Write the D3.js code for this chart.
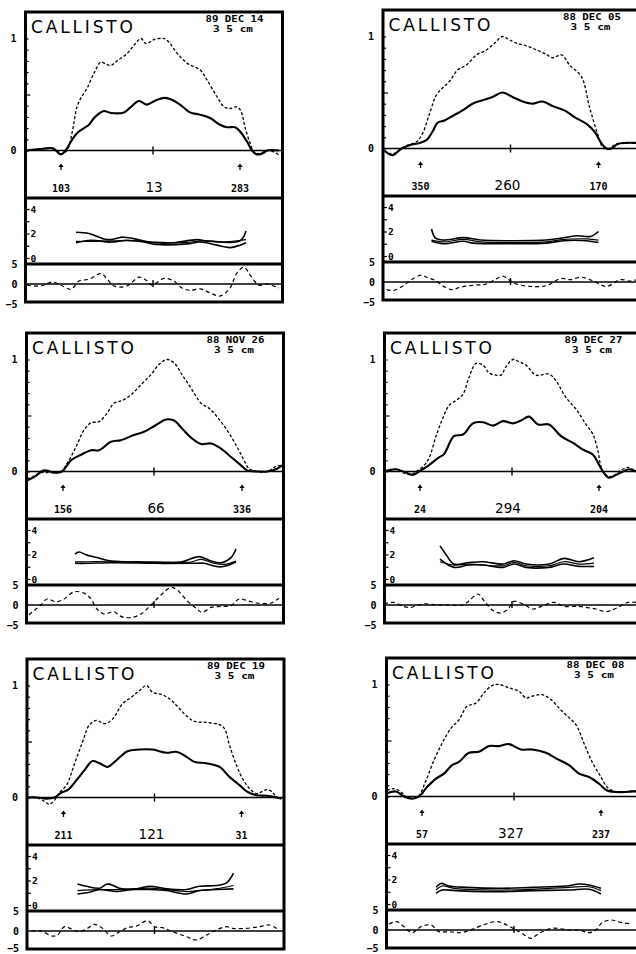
<!DOCTYPE html>
<html>
<head>
<meta charset="utf-8">
<script src="https://cdn.jsdelivr.net/npm/d3@7"></script>
<style>
  body { margin: 0; background: #fff; }
  svg { display: block; }
</style>
</head>
<body>
<svg id="chart" width="636" height="954"></svg>
<script>
// labels of the six scans
const target = "CALLISTO";
const band = "3 5 cm";
const dates = ["89 DEC 14", "88 DEC 05", "88 NOV 26", "89 DEC 27", "89 DEC 19", "88 DEC 08"];
const centerLon = ["13", "260", "66", "294", "121", "327"];
const limbLon = [["103", "283"], ["350", "170"], ["156", "336"], ["24", "204"], ["211", "31"], ["57", "237"]];
// limb positions along the scan (same units as the x values below)
const limbPos = [[-92, 87], [-90, 88], [-91, 88], [-92, 87], [-91, 87], [-92, 87]];
const centerLabelPos = [1, -3, 2, -4, -3, -3];

// ---- panel 1 : 89 DEC 14 ----
const p1Upper = [[-126,0.0],[-115,0.01],[-105,0.02],[-96,0.0],[-92,-0.03],[-86,0.0],[-81,0.155],[-76,0.39],[-72,0.47],[-66,0.555],[-59,0.69],[-52,0.79],[-47,0.77],[-42,0.76],[-36,0.8],[-26,0.865],[-19,0.94],[-12,1.0],[-7,0.955],[1,0.99],[11,1.0],[17,0.955],[24,0.87],[34,0.78],[47,0.72],[54,0.63],[64,0.48],[71,0.39],[77,0.375],[84,0.39],[88,0.35],[92,0.21],[97,0.066],[101,-0.01],[106,-0.03],[111,-0.01],[117,0.0],[126,-0.04]];
const p1Lower = [[-126,0.0],[-110,0.015],[-100,0.02],[-92,-0.035],[-86,0.02],[-81,0.095],[-76,0.155],[-69,0.2],[-64,0.23],[-59,0.29],[-54,0.33],[-49,0.353],[-42,0.335],[-29,0.34],[-22,0.39],[-14,0.442],[-6,0.41],[2,0.445],[11,0.47],[17,0.46],[27,0.41],[37,0.34],[47,0.32],[57,0.29],[67,0.23],[74,0.208],[82,0.208],[87,0.17],[94,0.08],[99,0.0],[104,-0.035],[111,-0.02],[114,0.0],[126,0.0]];
const p1Ratio = [
  [[-77,2.1],[-64,2.0],[-46,1.5],[-29,1.7],[-12,1.45],[1,1.25],[21,1.25],[44,1.5],[54,1.4],[87,1.4],[93,2.2]],
  [[-77,1.35],[-60,1.35],[-40,1.4],[-20,1.4],[0,1.3],[30,1.25],[50,1.4],[70,1.3],[93,1.5]],
  [[-77,1.25],[-62,1.45],[-42,1.3],[-26,1.45],[-9,1.3],[4,1.1],[34,1.15],[47,1.3],[64,1.05],[77,0.85],[87,1.05],[93,1.25]]
];
const p1Resid = [[-126,-0.3],[-112,-0.5],[-101,0.5],[-92,-0.3],[-82,-1.3],[-74,0.75],[-64,1.2],[-52,2.6],[-46,1.3],[-39,-0.5],[-26,-0.5],[-14,1.7],[-6,0.8],[-1,-0.3],[11,1.4],[21,0.7],[29,-1],[37,-1.6],[47,-1.2],[57,-2.2],[67,-3.0],[77,-1],[84,2.8],[91,4.2],[97,2.3],[106,-0.3],[114,0],[126,-1]];

// ---- panel 2 : 88 DEC 05 ----
const p2Upper = [[-126,-0.02],[-118,-0.05],[-109,0.0],[-103,0.03],[-94,0.06],[-88,0.133],[-81,0.31],[-74,0.48],[-68,0.54],[-61,0.6],[-53,0.7],[-44,0.746],[-34,0.836],[-24,0.88],[-16,0.94],[-8,1.0],[-1,0.97],[6,0.94],[16,0.917],[26,0.88],[36,0.84],[42,0.81],[51,0.836],[59,0.746],[71,0.64],[79,0.37],[87,0.133],[92,0.015],[97,-0.005],[106,0.04],[116,0.05],[126,0.045]];
const p2Lower = [[-126,-0.02],[-118,-0.06],[-109,0.0],[-101,0.03],[-91,0.05],[-84,0.075],[-78,0.15],[-73,0.23],[-66,0.25],[-58,0.29],[-48,0.34],[-38,0.4],[-28,0.43],[-18,0.46],[-8,0.5],[2,0.46],[12,0.42],[22,0.4],[32,0.42],[42,0.38],[54,0.34],[64,0.28],[76,0.22],[84,0.15],[91,0.045],[96,0.0],[101,0.0],[107,0.04],[116,0.05],[126,0.05]];
const p2Ratio = [
  [[-79,2.2],[-75,1.45],[-67,1.3],[-47,1.5],[-30,1.3],[0,1.25],[36,1.3],[50,1.45],[66,1.65],[80,1.6],[88,2.0]],
  [[-79,1.3],[-67,1.15],[-47,1.35],[-30,1.15],[0,1.1],[36,1.15],[53,1.35],[76,1.4],[88,1.3]],
  [[-79,1.2],[-67,1.0],[-47,1.2],[-37,1.05],[0,1.0],[36,1.05],[53,1.25],[76,1.25],[88,1.1]]
];
const p2Resid = [[-124,-1.9],[-117,-2.1],[-107,-0.9],[-99,0.6],[-89,1.7],[-84,1.2],[-75,0.35],[-67,-1.1],[-59,-1.9],[-50,-1.3],[-37,-0.8],[-24,-0.5],[-14,0.85],[-7,1.4],[-2,0.6],[6,-0.5],[20,-1.1],[36,-0.9],[50,0.85],[60,0.6],[71,1.2],[83,0.2],[96,-1.1],[110,0.6],[120,0.2],[126,0.6]];

// ---- panel 3 : 88 NOV 26 ----
const p3Upper = [[-127,-0.067],[-122,-0.05],[-113,-0.01],[-103,-0.01],[-93,0.0],[-87,0.07],[-78,0.22],[-70,0.37],[-63,0.435],[-55,0.445],[-47,0.52],[-40,0.61],[-32,0.633],[-23,0.685],[-13,0.775],[-3,0.865],[5,0.955],[13,1.0],[20,0.97],[28,0.865],[37,0.745],[47,0.61],[55,0.565],[63,0.49],[73,0.37],[83,0.22],[90,0.1],[95,0.025],[103,0.0],[113,0.0],[122,0.045],[128,0.055]];
const p3Lower = [[-127,-0.08],[-120,-0.05],[-110,0.01],[-100,-0.01],[-92,0.0],[-83,0.1],[-73,0.15],[-63,0.19],[-55,0.19],[-43,0.265],[-33,0.28],[-20,0.325],[-10,0.355],[2,0.415],[12,0.465],[20,0.455],[28,0.385],[38,0.295],[47,0.245],[57,0.25],[67,0.205],[77,0.13],[87,0.055],[93,0.01],[103,0.0],[113,0.0],[123,0.025],[128,0.055]];
const p3Ratio = [
  [[-79,2.03],[-75,2.2],[-67,1.95],[-57,1.75],[-43,1.47],[-20,1.39],[3,1.33],[27,1.39],[45,1.83],[57,1.47],[67,1.33],[77,1.75],[82,2.45]],
  [[-79,1.39],[-43,1.45],[3,1.39],[37,1.39],[47,1.6],[60,1.28],[70,1.19],[82,1.47]],
  [[-79,1.28],[-67,1.28],[-43,1.33],[3,1.28],[37,1.28],[50,1.28],[60,1.06],[68,1.0],[82,1.39]]
];
const p3Resid = [[-125,-2.5],[-120,-1.4],[-113,0],[-107,1.5],[-98,0.8],[-90,1.5],[-80,3.3],[-70,2.97],[-63,1.5],[-57,-1.0],[-50,-2.25],[-40,-1.67],[-35,-2.6],[-30,-3.1],[-22,-3.1],[-13,-2.25],[-3,0],[7,2.5],[17,4.4],[23,3.8],[33,1.1],[43,-1.0],[48,-1.85],[57,-0.6],[67,-0.35],[77,-0.15],[85,1.5],[93,1.1],[103,0.5],[117,0.5],[125,1.7]];

// ---- panel 4 : 89 DEC 27 ----
const p4Upper = [[-128,0.0],[-121,0.01],[-114,0.02],[-108,-0.015],[-101,-0.03],[-96,0.0],[-89,0.045],[-83,0.12],[-76,0.316],[-69,0.48],[-63,0.59],[-56,0.635],[-49,0.69],[-43,0.84],[-36,0.965],[-29,0.95],[-23,0.88],[-16,0.86],[-11,0.86],[-6,0.935],[1,1.0],[7,0.98],[14,0.95],[24,0.86],[37,0.87],[44,0.81],[54,0.66],[64,0.557],[74,0.42],[81,0.33],[86,0.18],[89,0.045],[94,-0.03],[101,-0.045],[107,0.0],[116,0.036],[124,0.0]];
const p4Lower = [[-128,0.0],[-116,0.02],[-106,-0.01],[-99,-0.03],[-93,0.0],[-84,0.05],[-74,0.12],[-68,0.155],[-58,0.316],[-49,0.33],[-39,0.43],[-29,0.44],[-19,0.41],[-9,0.45],[1,0.43],[9,0.455],[17,0.49],[26,0.42],[37,0.42],[49,0.316],[61,0.255],[71,0.195],[81,0.15],[87,0.06],[92,-0.015],[97,-0.055],[104,-0.03],[111,0.0],[117,0.02],[124,0.0]];
const p4Ratio = [
  [[-72,2.7],[-66,2.0],[-58,1.22],[-43,1.35],[-29,1.41],[-9,1.22],[2,1.49],[14,1.22],[37,1.22],[52,1.68],[67,1.41],[82,1.73]],
  [[-72,1.41],[-58,1.14],[-43,1.22],[-9,1.08],[2,1.35],[14,1.08],[37,1.08],[52,1.41],[67,1.22],[82,1.3]],
  [[-72,1.63],[-58,0.95],[-43,1.14],[-29,1.14],[-9,0.95],[2,1.22],[14,0.95],[37,0.95],[51,1.22],[67,1.03],[82,1.03]]
];
const p4Resid = [[-128,0.25],[-119,0.67],[-109,-0.33],[-101,-0.6],[-89,0.25],[-76,0.08],[-63,0],[-49,0],[-43,1.08],[-34,2.75],[-28,1.08],[-19,-1.4],[-11,-2.0],[-4,-1.0],[2,0.9],[11,0.25],[21,-1.0],[31,-0.17],[42,0.67],[52,-0.33],[67,-0.33],[74,-0.6],[84,-1.0],[94,-1.67],[104,-0.83],[116,0.67],[124,0.67]];

// ---- panel 5 : 89 DEC 19 ----
const p5Upper = [[-127,0.0],[-118,0.0],[-110,-0.035],[-105,-0.06],[-100,-0.025],[-95,0.045],[-88,0.11],[-80,0.3],[-72,0.495],[-65,0.65],[-58,0.688],[-50,0.66],[-42,0.7],[-32,0.837],[-23,0.896],[-15,0.955],[-8,1.0],[-2,0.94],[8,0.917],[17,0.867],[25,0.793],[33,0.72],[40,0.68],[52,0.67],[65,0.65],[70,0.615],[75,0.466],[82,0.287],[88,0.17],[95,0.08],[102,0.035],[107,0.05],[112,0.07],[117,0.055],[122,0.006],[127,-0.01]];
const p5Lower = [[-127,0.0],[-118,0.0],[-108,-0.01],[-100,0.0],[-93,0.045],[-87,0.065],[-78,0.155],[-70,0.245],[-62,0.325],[-55,0.305],[-47,0.273],[-38,0.333],[-27,0.413],[-15,0.428],[-2,0.428],[12,0.4],[22,0.408],[32,0.363],[40,0.318],[52,0.305],[65,0.273],[75,0.184],[85,0.11],[93,0.05],[102,0.02],[112,0.015],[122,0.0],[127,-0.01]];
const p5Ratio = [
  [[-77,1.72],[-68,1.53],[-55,1.37],[-47,1.72],[-35,1.37],[-22,1.26],[-5,1.53],[12,1.32],[32,1.26],[45,1.53],[62,1.59],[72,1.8],[79,2.6]],
  [[-77,1.18],[-55,1.26],[-38,1.26],[-5,1.37],[12,1.26],[32,1.1],[45,1.18],[62,1.32],[79,1.59]],
  [[-77,0.9],[-65,1.04],[-55,1.26],[-38,1.1],[-22,1.26],[-5,1.26],[12,1.18],[32,0.9],[45,1.18],[62,1.26],[79,1.32]]
];
const p5Resid = [[-123,0],[-113,0],[-103,-1.25],[-97,-1.0],[-90,1.08],[-83,0.5],[-75,-0.17],[-67,0.67],[-60,1.67],[-52,0.67],[-43,-1.25],[-35,-0.17],[-27,0.83],[-18,1.25],[-7,2.58],[0,1.08],[8,0.83],[18,-0.17],[32,-1.42],[42,-2.25],[52,-1.0],[62,0.25],[72,1.08],[78,0.67],[92,0.67],[105,1.08],[115,1.5],[123,0.5]];

// ---- panel 6 : 88 DEC 08 ----
const p6Upper = [[-127,0.054],[-120,0.07],[-113,0.04],[-107,-0.006],[-100,-0.015],[-95,0.01],[-88,0.144],[-80,0.324],[-72,0.474],[-63,0.61],[-55,0.685],[-47,0.805],[-38,0.835],[-30,0.925],[-22,0.99],[-15,1.0],[-5,0.97],[5,0.94],[12,0.88],[18,0.895],[28,0.91],[37,0.865],[45,0.79],[53,0.72],[62,0.64],[70,0.474],[78,0.31],[87,0.174],[93,0.084],[100,0.048],[108,0.04],[118,0.048],[123,0.04]];
const p6Lower = [[-127,0.03],[-118,0.045],[-110,0.0],[-102,-0.02],[-95,0.0],[-87,0.084],[-78,0.16],[-70,0.204],[-62,0.28],[-55,0.31],[-45,0.39],[-35,0.4],[-25,0.45],[-15,0.45],[-5,0.468],[7,0.42],[18,0.42],[32,0.39],[42,0.34],[55,0.28],[65,0.204],[75,0.174],[85,0.114],[93,0.054],[102,0.04],[112,0.04],[122,0.048]];
const p6Ratio = [
  [[-78,1.36],[-73,1.68],[-65,1.47],[-48,1.36],[-15,1.28],[18,1.36],[52,1.47],[65,1.63],[75,1.55],[87,1.28]],
  [[-78,1.14],[-72,1.47],[-58,1.25],[-15,1.14],[18,1.2],[55,1.36],[75,1.41],[87,1.09]],
  [[-78,0.87],[-72,1.14],[-58,1.09],[-15,1.0],[18,1.09],[55,1.14],[75,1.2],[87,0.82]]
];
const p6Resid = [[-125,1.5],[-117,2.1],[-110,0.83],[-102,-0.67],[-93,0.83],[-83,1.25],[-75,-0.42],[-65,-0.42],[-53,-0.67],[-42,0.17],[-28,1.5],[-17,2.1],[-7,1.25],[2,0],[8,-0.83],[17,-2.1],[25,-0.83],[38,0.42],[55,0],[65,0],[75,-0.67],[82,0],[88,1.83],[97,2.5],[108,1.83],[118,1.5]];

const uppers = [p1Upper, p2Upper, p3Upper, p4Upper, p5Upper, p6Upper];
const lowers = [p1Lower, p2Lower, p3Lower, p4Lower, p5Lower, p6Lower];
const ratios = [p1Ratio, p2Ratio, p3Ratio, p4Ratio, p5Ratio, p6Ratio];
const resids = [p1Resid, p2Resid, p3Resid, p4Resid, p5Resid, p6Resid];

// frame corners of each panel on the page
const layout = [
  { x: 25.5, y: 12 }, { x: 383, y: 10 },
  { x: 26.5, y: 333 }, { x: 384.5, y: 333 },
  { x: 27, y: 659 }, { x: 386.5, y: 658 }
];
const W = 257;
const monoBold = "'DejaVu Sans Mono', monospace";
const plotFont = "'DejaVu Sans', sans-serif";
const pageH = 954;

const svg = d3.select("#chart");

dates.forEach((date, i) => {
  const L = layout[i].x, T = layout[i].y;
  const g = svg.append("g");

  const x = d3.scaleLinear().domain([-127.5, 129.5]).range([L, L + W]);
  const yMain = d3.scaleLinear().domain([0, 1]).range([T + 138.5, T + 26.5]);
  const yMid = d3.scaleLinear().domain([0, 4]).range([T + 246, T + 197]);
  const yRes = d3.scaleLinear().domain([-5, 5]).range([T + 292, T + 252]);

  // clip areas
  const clips = [["m", T, 186], ["r", T + 186, 66], ["b", T + 252, 38]];
  clips.forEach(([k, y0, h]) => {
    svg.append("clipPath").attr("id", `c${i}${k}`)
      .append("rect").attr("x", L).attr("y", y0).attr("width", W).attr("height", h);
  });

  const lineMain = d3.line().x(d => x(d[0])).y(d => yMain(d[1])).curve(d3.curveCatmullRom.alpha(0.5));
  const lineMid = d3.line().x(d => x(d[0])).y(d => yMid(d[1])).curve(d3.curveCatmullRom.alpha(0.5));
  const lineRes = d3.line().x(d => x(d[0])).y(d => yRes(d[1])).curve(d3.curveCatmullRom.alpha(0.5));

  // main panel zero line and centre tick
  g.append("line").attr("x1", L).attr("x2", L + W)
    .attr("y1", yMain(0)).attr("y2", yMain(0))
    .attr("stroke", "#000").attr("stroke-width", 1.6);
  g.append("line").attr("x1", x(0)).attr("x2", x(0))
    .attr("y1", yMain(0) - 4).attr("y2", yMain(0) + 4)
    .attr("stroke", "#000").attr("stroke-width", 1.4);

  const mainG = g.append("g").attr("clip-path", `url(#c${i}m)`);
  mainG.append("path").datum(uppers[i]).attr("d", lineMain)
    .attr("fill", "none").attr("stroke", "#000").attr("stroke-width", 1.3)
    .attr("stroke-dasharray", "3,2");
  mainG.append("path").datum(lowers[i]).attr("d", lineMain)
    .attr("fill", "none").attr("stroke", "#000").attr("stroke-width", 2.1);

  // left axis of main panel
  const ax = g.append("g").attr("transform", `translate(${L},0)`)
    .call(d3.axisRight(yMain).tickValues(d3.range(0, 1.05, 0.1)).tickSize(3).tickFormat(""));
  ax.select(".domain").remove();
  ax.selectAll(".tick line").attr("stroke-width", 1.2)
    .attr("x2", d => Math.abs(d - 0.5) < 0.01 ? 5 : 3);
  const axL = g.append("g").attr("transform", `translate(${L},0)`)
    .call(d3.axisLeft(yMain).tickValues([0, 1]).tickSize(0).tickPadding(9).tickFormat(d3.format("d")));
  axL.select(".domain").remove();
  axL.selectAll("text").attr("font-family", monoBold).attr("font-weight", "bold").attr("font-size", 10);

  // title, date, band
  g.append("text").attr("x", L + 5.5).attr("y", T + 21)
    .attr("font-family", plotFont).attr("font-size", 17)
    .attr("textLength", 102).attr("lengthAdjust", "spacing")
    .text(target);
  g.append("text").attr("x", L + 180).attr("y", T + 10)
    .attr("font-family", monoBold).attr("font-weight", "bold").attr("font-size", 8.5)
    .attr("textLength", 58).attr("lengthAdjust", "spacingAndGlyphs")
    .text(date);
  g.append("text").attr("x", L + 187.5).attr("y", T + 19.5)
    .attr("font-family", monoBold).attr("font-weight", "bold").attr("font-size", 8.5)
    .attr("textLength", 40).attr("lengthAdjust", "spacingAndGlyphs")
    .text(band);

  // limb arrows and longitude labels
  limbPos[i].forEach((lp, k) => {
    const ax0 = x(lp);
    g.append("path")
      .attr("d", `M${ax0},${T + 151.5}L${ax0 - 2.6},${T + 155}L${ax0 + 2.6},${T + 155}Z`)
      .attr("fill", "#000");
    g.append("line").attr("x1", ax0).attr("x2", ax0)
      .attr("y1", T + 154).attr("y2", T + 158)
      .attr("stroke", "#000").attr("stroke-width", 1.3);
    g.append("text").attr("x", ax0).attr("y", T + 179.5)
      .attr("text-anchor", "middle")
      .attr("font-family", monoBold).attr("font-weight", "bold").attr("font-size", 10)
      .text(limbLon[i][k]);
  });
  g.append("text").attr("x", x(centerLabelPos[i])).attr("y", T + 180)
    .attr("text-anchor", "middle")
    .attr("font-family", plotFont).attr("font-size", 13.5)
    .text(centerLon[i]);

  // ratio panel
  const midG = g.append("g").attr("clip-path", `url(#c${i}r)`);
  ratios[i].forEach((s, k) => {
    midG.append("path").datum(s).attr("d", lineMid)
      .attr("fill", "none").attr("stroke", "#000")
      .attr("stroke-width", k === 1 ? 1.2 : 1.6);
  });
  const axM = g.append("g").attr("transform", `translate(${L},0)`)
    .call(d3.axisRight(yMid).tickValues([0, 1, 2, 3, 4]).tickSize(4).tickPadding(1)
      .tickFormat(d => d % 2 === 0 ? d : ""));
  axM.select(".domain").remove();
  axM.selectAll(".tick line").attr("stroke-width", 1.2);
  axM.selectAll("text").attr("font-family", monoBold).attr("font-weight", "bold").attr("font-size", 9.5);

  // residual panel
  g.append("line").attr("x1", L).attr("x2", L + W)
    .attr("y1", yRes(0)).attr("y2", yRes(0))
    .attr("stroke", "#000").attr("stroke-width", 1.6);
  g.append("line").attr("x1", x(0)).attr("x2", x(0))
    .attr("y1", yRes(0) - 4).attr("y2", yRes(0) + 3)
    .attr("stroke", "#000").attr("stroke-width", 1.4);
  g.append("g").attr("clip-path", `url(#c${i}b)`)
    .append("path").datum(resids[i]).attr("d", lineRes)
    .attr("fill", "none").attr("stroke", "#000").attr("stroke-width", 1.2)
    .attr("stroke-dasharray", "4,3");
  const axR = g.append("g").attr("transform", `translate(${L},0)`)
    .call(d3.axisLeft(yRes).tickValues([-5, 0, 5]).tickSize(0).tickPadding(8).tickFormat(d3.format("d")));
  axR.select(".domain").remove();
  axR.selectAll("text").attr("font-family", monoBold).attr("font-weight", "bold").attr("font-size", 10);
  // keep the lowest label inside the page
  axR.selectAll(".tick").filter(d => d === -5 && yRes(d) + 6 > pageH)
    .select("text").attr("dy", `${0.32 - (yRes(-5) + 6 - pageH) / 10}em`);

  // frame and separators
  g.append("rect").attr("x", L).attr("y", T).attr("width", W).attr("height", 290)
    .attr("fill", "none").attr("stroke", "#000").attr("stroke-width", 3);
  [186, 252].forEach(dy => {
    g.append("line").attr("x1", L).attr("x2", L + W)
      .attr("y1", T + dy).attr("y2", T + dy)
      .attr("stroke", "#000").attr("stroke-width", 3);
  });
});
</script>
</body>
</html>
